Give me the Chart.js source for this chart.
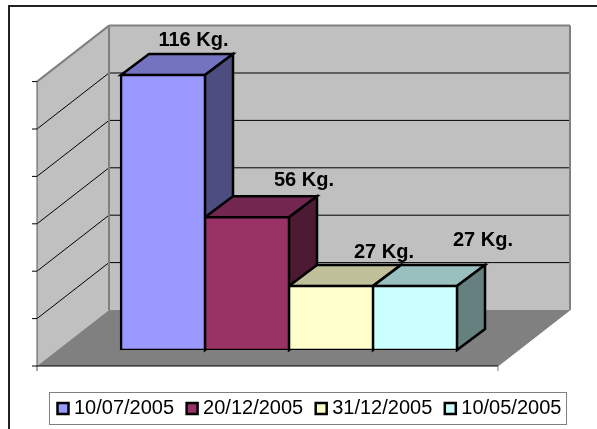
<!DOCTYPE html>
<html><head><meta charset="utf-8">
<style>html,body{margin:0;padding:0;background:#fff}#w{position:relative;width:597px;height:429px}canvas{display:block}</style>
<script src="https://cdn.jsdelivr.net/npm/chart.js@4/dist/chart.umd.min.js"></script>
</head><body><div id="w"><canvas id="c" width="597" height="429"></canvas></div>
<script>
const dates = ['10/07/2005','20/12/2005','31/12/2005','10/05/2005'];
const weights = [116,56,27,27];
const frontColors = ['#9999FF','#993366','#FFFFCC','#CCFFFF'];
const topColors = ['#7373BF','#732650','#BFBF99','#99BFBF'];
const sideColors = ['#4D4D80','#4D1A33','#808066','#668080'];
const labelShift = [[30.5,-35],[57,-37],[53,-34],[68,-46]];

const BAR_DEPTH = [28,-21];
const BACK = [50.5,-40];   // bar plane -> back wall
const FRONT = [-21.5,16];  // bar plane -> front edge of floor

function poly(ctx, pts, fill, stroke, lw){
  ctx.beginPath();
  pts.forEach((p,i)=> i?ctx.lineTo(p[0],p[1]):ctx.moveTo(p[0],p[1]));
  ctx.closePath();
  if(fill){ctx.fillStyle=fill;ctx.fill();}
  if(stroke){ctx.strokeStyle=stroke;ctx.lineWidth=lw;ctx.lineJoin='miter';ctx.stroke();}
}
function seg(ctx,x1,y1,x2,y2,c,lw){
  ctx.beginPath();ctx.moveTo(x1,y1);ctx.lineTo(x2,y2);ctx.strokeStyle=c;ctx.lineWidth=lw;ctx.stroke();
}
const scene = {
  id:'scene',
  afterLayout(chart){
    const l = chart.legend;
    l.left = 45; l.right = 580; l.top = 381.5;
  },
  beforeDatasetsDraw(chart){
    const ctx = chart.ctx, ys = chart.scales.y, a = chart.chartArea;
    const L=a.left,R=a.right,y0=ys.getPixelForValue(0),yT=ys.getPixelForValue(120);
    const bx=x=>x+BACK[0], by=y=>y+BACK[1], fx=x=>x+FRONT[0], fy=y=>y+FRONT[1];
    ctx.save();
    // frame (runs off the right and bottom of the picture)
    ctx.strokeStyle='#222';ctx.lineWidth=2;
    ctx.strokeRect(9,6,640,480);
    // back wall
    poly(ctx,[[bx(L),by(yT)],[bx(R),by(yT)],[bx(R),by(y0)],[bx(L),by(y0)]],'#C0C0C0');
    // left wall
    poly(ctx,[[fx(L),fy(yT)],[bx(L),by(yT)],[bx(L),by(y0)],[fx(L),fy(y0)]],'#C0C0C0');
    // floor
    poly(ctx,[[fx(L),fy(y0)],[bx(L),by(y0)],[bx(R),by(y0)],[fx(R),fy(y0)]],'#808080');
    // gridlines
    ys.ticks.forEach(t=>{
      if(t.value===0||t.value===120)return;
      const y=ys.getPixelForValue(t.value);
      seg(ctx,fx(L),fy(y),bx(L),by(y),'#000',1);
      seg(ctx,bx(L),by(y),bx(R),by(y),'#000',1);
    });
    // wall outlines
    seg(ctx,fx(L),fy(yT),bx(L),by(yT),'#808080',2);
    seg(ctx,bx(L),by(yT),bx(R),by(yT),'#808080',2);
    seg(ctx,bx(L),by(yT),bx(L),by(y0),'#808080',2);
    seg(ctx,bx(R),by(yT),bx(R),by(y0),'#808080',2);
    // axis
    seg(ctx,fx(L),fy(yT),fx(L),fy(y0)+5,'#555',1);
    ys.ticks.forEach(t=>{
      const y=ys.getPixelForValue(t.value);
      seg(ctx,fx(L)-5,fy(y),fx(L),fy(y),'#000',1);
    });
    seg(ctx,fx(L),fy(y0),fx(R),fy(y0),'#000',1);
    seg(ctx,fx(R),fy(y0),fx(R),fy(y0)+5,'#808080',1);
    seg(ctx,fx(R),fy(y0),bx(R),by(y0),'#808080',1);
    // bar depth faces
    const [dx,dy]=BAR_DEPTH;
    chart.data.datasets.forEach((ds,i)=>{
      const b=chart.getDatasetMeta(i).data[0], hw=b.width/2, xl=b.x-hw, xr=b.x+hw, t=b.y, bo=b.base;
      poly(ctx,[[xl,t],[xl+dx,t+dy],[xr+dx,t+dy],[xr,t]],topColors[i],'#000',2.5);
      poly(ctx,[[xr,t],[xr+dx,t+dy],[xr+dx,bo+dy],[xr,bo]],sideColors[i],'#000',2.5);
    });
    ctx.restore();
  },
  afterDatasetsDraw(chart){
    const ctx=chart.ctx;
    ctx.save();
    ctx.font='bold 20px "Liberation Sans", Arial, sans-serif';
    ctx.fillStyle='#000';ctx.textAlign='center';ctx.textBaseline='middle';
    chart.data.datasets.forEach((ds,i)=>{
      const b=chart.getDatasetMeta(i).data[0];
      ctx.fillText(ds.data[0]+' Kg.',b.x+labelShift[i][0],b.y+labelShift[i][1]);
    });
    ctx.restore();
  },
  beforeDraw(chart){
    const ctx=chart.ctx;
    ctx.save();ctx.fillStyle='#fff';ctx.fillRect(0,0,chart.width,chart.height);ctx.restore();
  },
  afterDraw(chart){
    const ctx=chart.ctx;
    ctx.save();ctx.strokeStyle='#808080';ctx.lineWidth=1;ctx.strokeRect(49.5,392.5,517,32);ctx.restore();
  }
};
new Chart(document.getElementById('c'),{
  type:'bar',
  data:{labels:[''],datasets:dates.map((d,i)=>({
    label:d,data:[weights[i]],backgroundColor:frontColors[i],borderColor:'#000',borderWidth:2.5,
    borderSkipped:false,inflateAmount:1.25,
    barPercentage:1,categoryPercentage:336/461
  }))},
  options:{
    responsive:false,animation:false,
    layout:{padding:{top:65.6}},
    scales:{
      x:{display:true,grid:{display:false},border:{display:false},ticks:{display:false},afterFit(s){s.height=32;}},
      y:{min:0,max:120,ticks:{stepSize:20,display:false},grid:{display:false},border:{display:false},afterFit(s){s.width=58.5;}},
      yr:{position:'right',grid:{display:false},border:{display:false},ticks:{display:false},afterFit(s){s.width=77.5;}}
    },
    plugins:{
      tooltip:{enabled:false},
      title:{display:false},
      legend:{display:true,position:'bottom',align:'start',
        labels:{font:{family:'"Liberation Sans", Arial, sans-serif',size:20},color:'#000',usePointStyle:true,pointStyle:'rect',boxWidth:2,boxHeight:11,padding:17}}
    }
  },
  plugins:[scene]
});
</script></body></html>
